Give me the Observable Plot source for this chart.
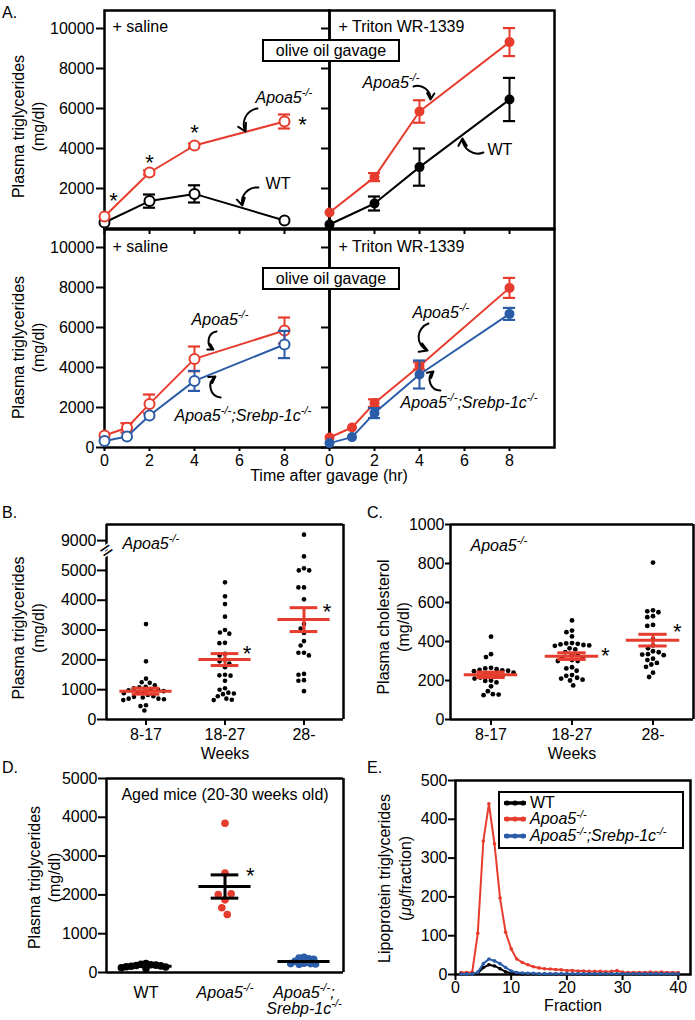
<!DOCTYPE html>
<html><head><meta charset="utf-8">
<script src="https://cdn.jsdelivr.net/npm/d3@7"></script>
<script src="https://cdn.jsdelivr.net/npm/@observablehq/plot@0.6"></script>
<style>
html,body{margin:0;padding:0;background:#fff}
#fig{position:relative;width:695px;height:1020px;overflow:hidden;font-family:"Liberation Sans",Arial,Helvetica,sans-serif;font-size:16px;color:#000}
.t{position:absolute;white-space:nowrap;line-height:18px}
.box{position:absolute;box-sizing:border-box;border:2px solid #000;background:#fff;text-align:center;line-height:19px;white-space:nowrap}
.leg{position:absolute;box-sizing:border-box;border:2.5px solid #000;background:#fff}
.row{position:absolute;left:3px;height:18px;line-height:18px;white-space:nowrap}
.row svg{vertical-align:middle;margin-right:3px}
sup{font-size:11px;position:relative;top:-0.5em;vertical-align:baseline;line-height:0}
</style></head>
<body><div id="fig"></div>
<script>
// ---------- colours ----------
const RED = "#e63c2e", BLUE = "#2b5ca8", BLACK = "#000000";

// ---------- Panel A data (plasma TG, mg/dl, after olive oil gavage) ----------
const hoursTop = [0, 2, 4, 8];
const hoursBottom = [0, 1, 2, 4, 8];
const timeTicks = [0, 2, 4, 6, 8];
const tgTicksA = [0, 2000, 4000, 6000, 8000, 10000];

const topSalineApoa5 = [600, 2800, 4150, 5350];
const topSalineApoa5Sem = [0, 100, 100, 350];
const topSalineWT = [300, 1370, 1730, 400];
const topSalineWTSem = [0, 330, 430, 0];

const topTritonApoa5 = [800, 2570, 5850, 9320];
const topTritonApoa5Sem = [0, 200, 560, 700];
const topTritonWT = [200, 1250, 3070, 6450];
const topTritonWTSem = [0, 350, 930, 1080];

const botSalineApoa5 = [600, 985, 2180, 4430, 5850];
const botSalineApoa5Sem = [0, 230, 470, 620, 650];
const botSalineDKO = [320, 550, 1600, 3330, 5150];
const botSalineDKOSem = [0, 0, 0, 500, 680];

const botTritonApoa5 = [500, 1000, 2220, 4080, 7980];
const botTritonApoa5Sem = [0, 0, 190, 180, 500];
const botTritonDKO = [220, 520, 1720, 3650, 6680];
const botTritonDKOSem = [0, 0, 250, 700, 300];

// annotations (data units)
const annTopSaline = [{x: 6.71, y: 6550, text: "_Apoa5^{-/-}_"}, {x: 7.16, y: 2250, text: "WT"}];
const arrTopSaline = [{x1: 6.8, y1: 6000, x2: 6.27, y2: 4850, bend: -55}, {x1: 6.84, y1: 2050, x2: 6.13, y2: 1150, bend: -55}];
const starsTopSaline = [{x: 0.4, y: 1650}, {x: 2, y: 3550}, {x: 4, y: 5050}, {x: 8.8, y: 5450}];
const annTopTriton = [{x: 1.47, y: 7300, text: "_Apoa5^{-/-}_"}, {x: 7.02, y: 3950, text: "WT"}];
const arrTopTriton = [{x1: 3.73, y1: 7100, x2: 4.49, y2: 6450, bend: 55}, {x1: 6.84, y1: 3800, x2: 5.91, y2: 4500, bend: 55}];
const annBotSaline = [{x: 3.87, y: 6400, text: "_Apoa5^{-/-}_"}, {x: 3.11, y: 1600, text: "_Apoa5^{-/-};Srebp-1c^{-/-}_"}];
const arrBotSaline = [{x1: 4.98, y1: 5800, x2: 4.84, y2: 4900, bend: -70}, {x1: 5.16, y1: 2500, x2: 4.93, y2: 3550, bend: 70}];
const annBotTriton = [{x: 3.69, y: 6750, text: "_Apoa5^{-/-}_"}, {x: 3.16, y: 2250, text: "_Apoa5^{-/-};Srebp-1c^{-/-}_"}];
const arrBotTriton = [{x1: 4.4, y1: 6200, x2: 4.36, y2: 4850, bend: -70}, {x1: 4.93, y1: 2850, x2: 4.62, y2: 3800, bend: 70}];

// ---------- Panel B data (plasma TG by age, Apoa5-/-) ----------
const weekGroups = ["8-17", "18-27", "28-"];
const tg817 = [3200, 1950, 1370, 1250, 1230, 1150, 1100, 1080, 1050, 1020, 1000, 980, 950, 930, 900, 880, 820, 780, 760, 740, 700, 700, 680, 650, 480, 450, 300];
const tg1827 = [4600, 4130, 3870, 3450, 3000, 2920, 2880, 2570, 2560, 2200, 2150, 2000, 1950, 1880, 1750, 1500, 1480, 1470, 1300, 1050, 1000, 900, 870, 850, 780, 700, 660, 650];
const tg28 = [9200, 5470, 5070, 5000, 5000, 4430, 4430, 4030, 3200, 3050, 2900, 2630, 2480, 2240, 2240, 2150, 1530, 1500, 1320, 1300, 950];
const tgMean = [950, 2010, 3350];
const tgSem = [100, 200, 400];
const tgTicksB = [0, 1000, 2000, 3000, 4000, 5000, 9000];
const starsB = [{cat: "18-27", x: 0.28, y: 2380}, {cat: "28-", x: 0.29, y: 3760}];

// ---------- Panel C data (plasma cholesterol by age) ----------
const chol817 = [425, 335, 320, 265, 262, 258, 255, 252, 250, 248, 240, 235, 230, 225, 220, 215, 210, 200, 198, 190, 170, 145, 130, 128, 125];
const chol1827 = [508, 456, 448, 426, 392, 390, 388, 385, 382, 380, 378, 365, 360, 345, 335, 330, 320, 315, 305, 300, 300, 268, 262, 250, 228, 224, 214, 210, 204, 200, 175];
const chol28 = [805, 560, 555, 550, 530, 525, 485, 480, 412, 380, 365, 350, 345, 335, 333, 330, 312, 305, 290, 282, 270, 240, 218];
const cholMean = [229, 325, 407];
const cholSem = [14, 17, 30];
const cholTicks = [0, 200, 400, 600, 800, 1000];
const starsC = [{cat: "18-27", x: 0.41, y: 354}, {cat: "28-", x: 0.30, y: 477}];

// ---------- Panel D data (aged mice TG) ----------
const agedGroups = ["WT", "Apoa5", "DKO"];
const agedGroupLabels = ["WT", "_Apoa5^{-/-}_", "_Apoa5^{-/-};_\n_Srebp-1c^{-/-}_"];
const agedWT = [230, 210, 200, 190, 180, 170, 160, 150, 140, 120, 100];
const agedApoa5 = [1873, 2010, 2028, 2560, 3848, 1667, 1495];
const agedDKO = [390, 370, 350, 340, 290, 240, 230, 220, 210, 230];
const agedMean = [163, 2216, 285];
const agedSem = [0, 300, 0];
const agedTicks = [0, 1000, 2000, 3000, 4000, 5000];
const starsD = [{cat: "Apoa5", x: 0.32, y: 2630}];

// ---------- Panel E data (FPLC lipoprotein TG, ug/fraction) ----------
const fractions = [1,2,3,4,5,6,7,8,9,10,11,12,13,14,15,16,17,18,19,20,21,22,23,24,25,26,27,28,29,30,31,32,33,34,35,36,37,38,39,40];
const fpApoa5 = [5,5,6,106,344,440,337,197,109,66,40,31,25,20,17,15,14,13,12,10,10,9,9,8,8,8,7,8,10,6,5,5,5,5,6,5,6,5,5,5];
const fpWT = [1,1,1,3,18,25,22,15,7,3,2,1,1,1,1,1,1,1,1,1,1,1,1,1,1,1,1,1,1,1,1,1,1,1,1,1,1,1,1,1];
const fpDKO = [1,1,1,6,28,40,35,28,18,9,5,4,3,3,2,2,2,2,2,2,2,2,2,2,2,2,2,2,2,2,2,2,2,2,2,2,2,2,2,2];
const fpTicksY = [0, 100, 200, 300, 400, 500];
const fpTicksX = [0, 10, 20, 30, 40];

// ---------- helpers ----------
const NS = "http://www.w3.org/2000/svg";
const fig = document.getElementById("fig");
const FONT = '"Liberation Sans", Arial, Helvetica, sans-serif';
const STYLE = {fontFamily: FONT, fontSize: "16px", background: "transparent", overflow: "visible", color: "black"};

function rich(root) {
  const els = [...root.querySelectorAll("text, tspan")].filter(e =>
    [...e.childNodes].every(n => n.nodeType === 3) && /[_^]/.test(e.textContent));
  for (const el of els) {
    const s = el.textContent;
    const fs = parseFloat(getComputedStyle(el).fontSize) || 16;
    const shift = fs * 0.42;
    while (el.firstChild) el.removeChild(el.firstChild);
    let italic = false, sup = false, buf = "", cur = 0;
    const flush = () => {
      if (!buf) return;
      const t = document.createElementNS(NS, "tspan");
      t.textContent = buf;
      if (italic) t.setAttribute("font-style", "italic");
      const target = sup ? -shift : 0;
      if (target !== cur) { t.setAttribute("dy", target - cur); cur = target; }
      if (sup) t.setAttribute("font-size", (fs * 0.7).toFixed(1));
      el.appendChild(t);
      buf = "";
    };
    for (let i = 0; i < s.length; i++) {
      const c = s[i];
      if (c === "_") { flush(); italic = !italic; }
      else if (c === "^" && s[i + 1] === "{") { flush(); sup = true; i++; }
      else if (c === "}" && sup) { flush(); sup = false; }
      else buf += c;
    }
    flush();
    if (cur !== 0) {
      const t = document.createElementNS(NS, "tspan");
      t.textContent = "\u200b";
      t.setAttribute("dy", -cur);
      el.appendChild(t);
    }
  }
}
function put(el, left, top) {
  el.style.position = "absolute";
  el.style.left = left + "px";
  el.style.top = top + "px";
  fig.appendChild(el);
  rich(el);
  return el;
}
function html(str, left, top, cls = "t", extra = "") {
  const d = document.createElement("div");
  d.className = cls;
  d.innerHTML = str;
  d.style.cssText += `left:${left}px;top:${top}px;${extra}`;
  fig.appendChild(d);
  return d;
}
const rows = (t, v, e) => t.map((h, i) => ({t: h, v: v[i], e: e[i]}));
const yTitle = (dx, dy, lh) => ({frameAnchor: "left", textAnchor: "middle", rotate: -90, dx, dy, lineHeight: lh || 1.25, lineAnchor: "middle", fontSize: 16});

// ---------- Panel A ----------
function makeA(o) {
  const marks = [Plot.frame({stroke: "black", strokeWidth: 2.5})];
  marks.push(Plot.axisY(tgTicksA.filter(t => o.zeroLabel || t > 0), {
    tickSize: 8, tickPadding: 2, strokeWidth: 2, label: null,
    tickFormat: o.yLabels ? (d => String(d)) : (() => "")
  }));
  marks.push(Plot.axisX(timeTicks, {
    tickSize: o.xTickSize, tickPadding: 3, strokeWidth: 2, label: null,
    tickFormat: o.xLabels ? (d => String(d)) : (() => "")
  }));
  for (const s of o.series) {
    const data = rows(s.t, s.v, s.e);
    const eb = data.filter(d => d.e > 0);
    marks.push(Plot.ruleX(eb, {x: "t", y1: d => d.v - d.e, y2: d => d.v + d.e, stroke: s.color, strokeWidth: 2}));
    marks.push(Plot.ruleY(eb, {y: d => d.v + d.e, x1: d => d.t - 0.27, x2: d => d.t + 0.27, stroke: s.color, strokeWidth: 2.2}));
    marks.push(Plot.ruleY(eb, {y: d => d.v - d.e, x1: d => d.t - 0.27, x2: d => d.t + 0.27, stroke: s.color, strokeWidth: 2.2}));
    marks.push(Plot.line(data, {x: "t", y: "v", stroke: s.color, strokeWidth: 2}));
    marks.push(Plot.dot(data, {x: "t", y: "v", r: s.open ? 5 : 4, fill: s.open ? "white" : s.color, stroke: s.color, strokeWidth: 2}));
  }
  if (o.stars) marks.push(Plot.text(o.stars, {x: "x", y: "y", text: () => "*", fontSize: 22, dy: 5}));
  marks.push(Plot.text(o.ann, {x: "x", y: "y", text: "text", textAnchor: "start", lineAnchor: "middle", fontSize: 16}));
  for (const a of o.arr) marks.push(Plot.arrow([a], {x1: "x1", y1: "y1", x2: "x2", y2: "y2", bend: a.bend, stroke: "black", strokeWidth: 2, headLength: 7}));
  marks.push(Plot.text([o.corner], {frameAnchor: "top-left", dx: o.cornerDx, dy: o.cornerDy, textAnchor: "start", lineAnchor: "middle", fontSize: 16}));
  if (o.yLabels) marks.push(Plot.text(["Plasma triglycerides\n(mg/dl)"], yTitle(-77, o.yTitleDy)));
  return Plot.plot({
    width: o.width, height: o.height,
    marginLeft: o.ml, marginRight: o.mr, marginTop: o.mt, marginBottom: o.mb,
    x: {domain: [0, 10]}, y: {domain: [0, 10900]},
    style: STYLE, marks
  });
}

put(makeA({
  width: 340, height: 240, ml: 104, mr: 11, mt: 10, mb: 12, yLabels: true, zeroLabel: false, xLabels: false, xTickSize: 6, yTitleDy: 7,
  series: [
    {t: hoursTop, v: topSalineWT, e: topSalineWTSem, color: BLACK, open: true},
    {t: hoursTop, v: topSalineApoa5, e: topSalineApoa5Sem, color: RED, open: true}
  ],
  stars: starsTopSaline, ann: annTopSaline, arr: arrTopSaline, corner: "+ saline", cornerDx: 8, cornerDy: 16
}), 0, 0);

put(makeA({
  width: 250, height: 240, ml: 11, mr: 14, mt: 10, mb: 12, yLabels: false, zeroLabel: false, xLabels: false, xTickSize: 6,
  series: [
    {t: hoursTop, v: topTritonWT, e: topTritonWTSem, color: BLACK, open: false},
    {t: hoursTop, v: topTritonApoa5, e: topTritonApoa5Sem, color: RED, open: false}
  ],
  ann: annTopTriton, arr: arrTopTriton, corner: "+ Triton WR-1339", cornerDx: 9, cornerDy: 16
}), 318, 0);

put(makeA({
  width: 340, height: 270, ml: 104, mr: 11, mt: 11, mb: 41, yLabels: true, zeroLabel: true, xLabels: true, xTickSize: 4, yTitleDy: 9,
  series: [
    {t: hoursBottom, v: botSalineApoa5, e: botSalineApoa5Sem, color: RED, open: true},
    {t: hoursBottom, v: botSalineDKO, e: botSalineDKOSem, color: BLUE, open: true}
  ],
  ann: annBotSaline, arr: arrBotSaline, corner: "+ saline", cornerDx: 8, cornerDy: 17
}), 0, 218);

put(makeA({
  width: 250, height: 270, ml: 11, mr: 14, mt: 11, mb: 41, yLabels: false, zeroLabel: true, xLabels: true, xTickSize: 4,
  series: [
    {t: hoursBottom, v: botTritonApoa5, e: botTritonApoa5Sem, color: RED, open: false},
    {t: hoursBottom, v: botTritonDKO, e: botTritonDKOSem, color: BLUE, open: false}
  ],
  ann: annBotTriton, arr: arrBotTriton, corner: "+ Triton WR-1339", cornerDx: 9, cornerDy: 17
}), 318, 218);

html("olive oil gavage", 262, 39, "box", "width:138px;height:23px");
html("olive oil gavage", 262, 267, "box", "width:138px;height:23px");
html("Time after gavage (hr)", 0, 467, "t", "width:658px;text-align:center");

// ---------- swarm panels (B, C, D) ----------
function makeSwarm(o) {
  const f = o.tf || (v => v);
  const last = o.cats[o.cats.length - 1];
  const stats = o.cats.map((c, i) => ({cat: c, m: o.means[i], s: o.sems[i]}));
  const withSem = stats.filter(d => d.s > 0);
  const line = {stroke: o.statColor, strokeWidth: 3};
  const marks = [
    Plot.ruleY([o.yDomain[0], o.yDomain[1]], {stroke: "black", strokeWidth: 2.5}),
    Plot.ruleX([-0.5], {fx: () => o.cats[0], stroke: "black", strokeWidth: 2.5}),
    Plot.ruleX([0.5], {fx: () => last, stroke: "black", strokeWidth: 2.5}),
    Plot.axisY(o.yTicks.map(f), {facetAnchor: "left", tickSize: o.yTickSize, tickPadding: o.yTickPadding, strokeWidth: 2, label: null, tickFormat: o.yFormat || (d => String(d))}),
    Plot.axisFx({anchor: "bottom", tickSize: o.fxTickSize, tickPadding: o.fxTickPadding, strokeWidth: 2, label: null, tickFormat: o.fxFormat || (d => d)})
  ];
  o.cats.forEach((c, i) => {
    const g = (o.dotStyle && o.dotStyle[i]) || {r: o.r, sw: 0, pad: o.pad};
    marks.push(Plot.dot(o.values[i].map(v => ({cat: c, v})),
      Plot.dodgeX("middle", {fx: "cat", y: d => f(d.v), r: g.r, padding: g.pad, fill: o.dotColors[i],
        stroke: g.sw ? o.dotColors[i] : null, strokeWidth: g.sw || null})));
  });
  marks.push(
    Plot.ruleY(stats, {fx: "cat", y: d => f(d.m), x1: () => -0.33, x2: () => 0.33, ...line}),
    Plot.ruleX(withSem, {fx: "cat", x: () => 0, y1: d => f(d.m - d.s), y2: d => f(d.m + d.s), ...line}),
    Plot.ruleY(withSem, {fx: "cat", y: d => f(d.m + d.s), x1: () => -0.175, x2: () => 0.175, ...line}),
    Plot.ruleY(withSem, {fx: "cat", y: d => f(d.m - d.s), x1: () => -0.175, x2: () => 0.175, ...line}),
    Plot.text(o.stars, {fx: "cat", x: "x", y: d => f(d.y), text: () => "*", fontSize: 22, dy: 5}),
    Plot.text([o.yLabel], {fx: () => o.cats[0], ...yTitle(o.yLabelDx, o.yLabelDy)})
  );
  if (o.xLabel) marks.push(Plot.text([o.xLabel], {fx: () => o.cats[1], frameAnchor: "bottom", textAnchor: "middle", dy: o.xLabelDy, lineAnchor: "middle", fontSize: 16}));
  if (o.note) marks.push(Plot.text([o.note.text], {fx: () => o.cats[o.note.facet], frameAnchor: o.note.anchor, dx: o.note.dx, dy: o.note.dy, textAnchor: o.note.textAnchor, lineAnchor: "middle", fontSize: 16}));
  if (o.extra) marks.push(...o.extra);
  return Plot.plot({
    width: o.width, height: o.height,
    marginLeft: o.ml, marginRight: o.mr, marginTop: o.mt, marginBottom: o.mb,
    fx: {domain: o.cats, padding: 0},
    x: {domain: [-0.5, 0.5], axis: null},
    y: {domain: o.yDomain, axis: null},
    style: STYLE, marks
  });
}

// B: broken axis (values >= 6000 drawn 3000 lower)
const brk = v => v >= 6000 ? v - 3000 : v;
const unbrk = v => v >= 6000 ? v + 3000 : v;
put(makeSwarm({
  width: 355, height: 265, ml: 106, mr: 12, mt: 24, mb: 46,
  cats: weekGroups, values: [tg817, tg1827, tg28], means: tgMean, sems: tgSem,
  tf: brk, yDomain: [0, 6540], yTicks: tgTicksB, yFormat: d => String(unbrk(d)),
  yTickSize: 9, yTickPadding: 1, fxTickSize: 6, fxTickPadding: 3,
  r: 2.3, pad: 0.6, dotColors: [BLACK, BLACK, BLACK], statColor: RED,
  stars: starsB, yLabel: "Plasma triglycerides\n(mg/dl)", yLabelDx: -79, yLabelDy: 6,
  xLabel: "Weeks", xLabelDy: 34,
  note: {text: "_Apoa5^{-/-}_", facet: 0, anchor: "top-left", dx: 16, dy: 19, textAnchor: "start"},
  extra: [Plot.text(["="], {fx: () => weekGroups[0], x: () => -0.5, y: () => brk(5670), rotate: -35, fontSize: 22, fill: "black", stroke: "white", strokeWidth: 3})]
}), 0, 500);

// C
put(makeSwarm({
  width: 345, height: 265, ml: 100, mr: 2, mt: 24, mb: 46,
  cats: weekGroups, values: [chol817, chol1827, chol28], means: cholMean, sems: cholSem,
  yDomain: [0, 1000], yTicks: cholTicks,
  yTickSize: 5, yTickPadding: 1, fxTickSize: 6, fxTickPadding: 3,
  r: 2.4, pad: 0.6, dotColors: [BLACK, BLACK, BLACK], statColor: RED,
  stars: starsC, yLabel: "Plasma cholesterol\n(mg/dl)", yLabelDx: -58, yLabelDy: 5,
  xLabel: "Weeks", xLabelDy: 34,
  note: {text: "_Apoa5^{-/-}_", facet: 0, anchor: "top-left", dx: 20, dy: 21, textAnchor: "start"}
}), 350, 500);

// D (WT and DKO dots overlap: smaller dodge radius, thick outline)
put(makeSwarm({
  width: 355, height: 260, ml: 106, mr: 12, mt: 18, mb: 48,
  cats: agedGroups, values: [agedWT, agedApoa5, agedDKO], means: agedMean, sems: agedSem,
  yDomain: [0, 5000], yTicks: agedTicks,
  yTickSize: 8, yTickPadding: 1, fxTickSize: 0, fxTickPadding: 14,
  fxFormat: d => agedGroupLabels[agedGroups.indexOf(d)],
  dotStyle: [{r: 2, sw: 3.6, pad: 0}, {r: 3.8, sw: 0, pad: 1}, {r: 2, sw: 3.6, pad: 0.3}],
  dotColors: [BLACK, RED, BLUE], statColor: BLACK,
  stars: starsD, yLabel: "Plasma triglycerides\n(mg/dl)", yLabelDx: -63, yLabelDy: 2,
  note: {text: "Aged mice (20-30 weeks old)", facet: 1, anchor: "top", dx: 0, dy: 16, textAnchor: "middle"}
}), 0, 760);

// E
const fpRows = (v) => fractions.map((f, i) => ({f, v: v[i]}));
const fpSeries = [
  {v: fpApoa5, color: RED},
  {v: fpWT, color: BLACK},
  {v: fpDKO, color: BLUE}
];
const eMarks = [
  Plot.frame({stroke: "black", strokeWidth: 2.5}),
  Plot.axisY(fpTicksY, {tickSize: 7, tickPadding: 1, strokeWidth: 2, label: null, tickFormat: d => String(d)}),
  Plot.axisX(fpTicksX, {tickSize: 6, tickPadding: 1, strokeWidth: 2, label: null, tickFormat: d => String(d)})
];
for (const s of fpSeries) {
  eMarks.push(Plot.line(fpRows(s.v), {x: "f", y: "v", stroke: s.color, strokeWidth: 2}));
  eMarks.push(Plot.dot(fpRows(s.v), {x: "f", y: "v", r: 1.8, fill: s.color}));
}
eMarks.push(
  Plot.text(["Lipoprotein triglycerides\n(_\u03bc_g/fraction)"], yTitle(-61.5, 1, 1.3)),
  Plot.text(["Fraction"], {frameAnchor: "bottom", textAnchor: "middle", dy: 31, lineAnchor: "middle", fontSize: 16})
);
put(Plot.plot({
  width: 345, height: 260, marginLeft: 105, marginRight: 5, marginTop: 20, marginBottom: 46,
  x: {domain: [0, 42.2]}, y: {domain: [0, 500]},
  style: STYLE, marks: eMarks
}), 350, 760);

// legend for E
const swatch = c => `<svg width="24" height="10"><line x1="1" x2="23" y1="5" y2="5" stroke="${c}" stroke-width="3.5"/><circle cx="4" cy="5" r="2.6" fill="${c}"/><circle cx="12" cy="5" r="2.6" fill="${c}"/><circle cx="20" cy="5" r="2.6" fill="${c}"/></svg>`;
const leg = html("", 498, 791, "leg", "width:186px;height:58px");
leg.innerHTML =
  `<div class="row" style="top:0.5px">${swatch(BLACK)}WT</div>` +
  `<div class="row" style="top:16.5px">${swatch(RED)}<i>Apoa5<sup>-/-</sup></i></div>` +
  `<div class="row" style="top:33.5px">${swatch(BLUE)}<i>Apoa5<sup>-/-</sup>;Srebp-1c<sup>-/-</sup></i></div>`;

// panel letters
html("A.", 2, 4);
html("B.", 2, 504);
html("C.", 367, 504);
html("D.", 2, 759);
html("E.", 367, 759);
</script>
</body></html>
